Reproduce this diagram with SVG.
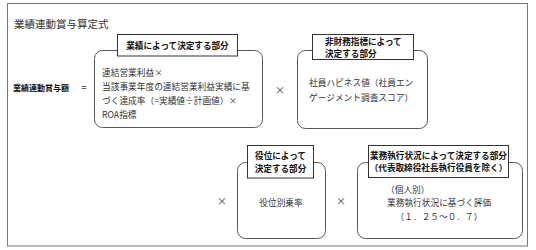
<svg xmlns="http://www.w3.org/2000/svg" width="536" height="250" viewBox="0 0 536 250">
<style>
  text { font-family: "Noto Sans CJK JP", "Noto Sans", sans-serif; fill: #333; }
  .body { font-size: 8.7px; }
  .lab { font-size: 8.6px; font-weight: bold; fill: #111; }
  .box { fill: #fff; stroke: #555; stroke-width: 1; }
  .tag { fill: #fff; stroke: #333; stroke-width: 1; }
  .op { font-size: 10px; fill: #444; }
</style>
<rect width="536" height="250" fill="#fff"/>
<rect x="7.5" y="3.5" width="520" height="242.5" fill="none" stroke="#777" stroke-width="1"/>
<text x="14" y="28" style="font-size:10.5px">業績連動賞与算定式</text>
<g id="lhs">
  <text x="13" y="91" style="font-size:8px;font-weight:bold;fill:#111">業績連動賞与額</text>
  <text x="84" y="91" class="op" text-anchor="middle">=</text>
</g>
<g id="node-performance">
  <rect class="box" x="94.5" y="50.5" width="168" height="77" rx="8"/>
  <rect class="tag" x="117.5" y="34.5" width="120" height="21.5"/>
  <text class="lab" x="177.5" y="48.5" text-anchor="middle">業績によって決定する部分</text>
  <text class="body" x="102" y="76">連結営業利益×</text>
  <text class="body" x="102" y="90">当該事業年度の連結営業利益実績に基</text>
  <text class="body" x="102" y="104">づく達成率（=実績値÷計画値）×</text>
  <text class="body" x="102" y="118">ROA指標</text>
</g>
<g id="node-nonfinancial">
  <rect class="box" x="297.5" y="50.5" width="130" height="78" rx="8"/>
  <rect class="tag" x="312.5" y="34.5" width="101" height="25"/>
  <text class="lab" x="325" y="45">非財務指標によって</text>
  <text class="lab" x="325" y="57">決定する部分</text>
  <text class="body" x="309" y="85.5">社員ハピネス値（社員エン</text>
  <text class="body" x="309" y="100.5">ゲージメント調査スコア）</text>
</g>
<g id="node-position">
  <rect class="box" x="237.5" y="162.5" width="88" height="76" rx="8"/>
  <rect class="tag" x="247.5" y="145.5" width="66" height="32.5"/>
  <text class="lab" x="280.5" y="159" text-anchor="middle">役位によって</text>
  <text class="lab" x="280.5" y="171.5" text-anchor="middle">決定する部分</text>
  <text class="body" x="281" y="206" text-anchor="middle">役位別乗率</text>
</g>
<g id="node-execution">
  <rect class="box" x="357.5" y="162.5" width="165" height="76" rx="8"/>
  <rect class="tag" x="368.5" y="145.5" width="140" height="32"/>
  <text class="lab" x="438.5" y="158.5" text-anchor="middle">業務執行状況によって決定する部分</text>
  <text class="lab" x="438.5" y="171" text-anchor="middle">（代表取締役社長執行役員を除く）</text>
  <text class="body" x="386" y="193">（個人別）</text>
  <text class="body" x="387" y="206">業務執行状況に基づく評価</text>
  <text class="body" x="439" y="219.5" text-anchor="middle">（１．２５～０．７）</text>
</g>
<g id="connectors">
  <text class="op" x="280" y="93.5" text-anchor="middle">×</text>
  <text class="op" x="222" y="204.5" text-anchor="middle">×</text>
  <text class="op" x="341" y="204.5" text-anchor="middle">×</text>
</g>
</svg>
